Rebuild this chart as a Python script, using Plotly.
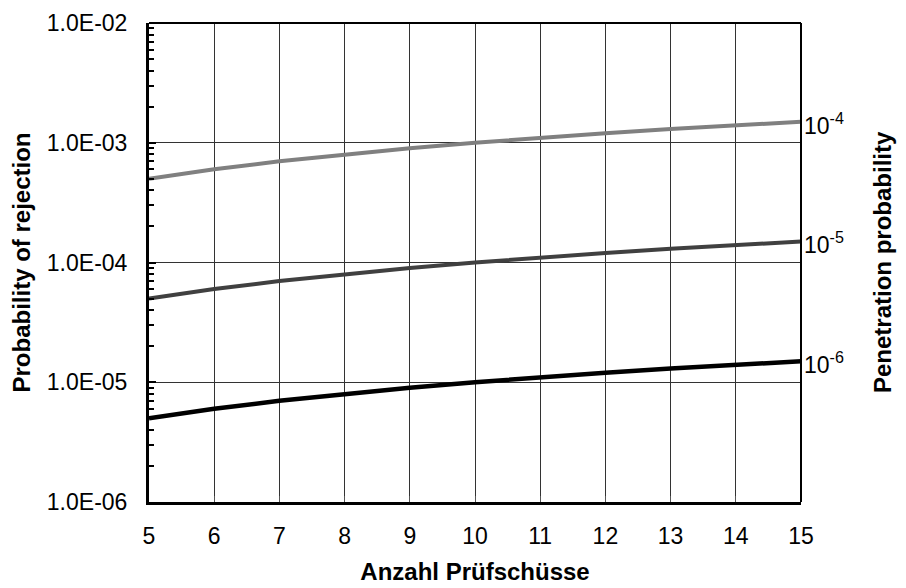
import math
import plotly.graph_objects as go

shots = [5, 6, 7, 8, 9, 10, 11, 12, 13, 14, 15]
p_1e4 = [5.0e-4, 6.0e-4, 7.0e-4, 8.0e-4, 9.0e-4, 1.0e-3, 1.1e-3, 1.2e-3, 1.3e-3, 1.4e-3, 1.5e-3]
p_1e5 = [5.0e-5, 6.0e-5, 7.0e-5, 8.0e-5, 9.0e-5, 1.0e-4, 1.1e-4, 1.2e-4, 1.3e-4, 1.4e-4, 1.5e-4]
p_1e6 = [5.0e-6, 6.0e-6, 7.0e-6, 8.0e-6, 9.0e-6, 1.0e-5, 1.1e-5, 1.2e-5, 1.3e-5, 1.4e-5, 1.5e-5]
labels = ["10<sup>-4</sup>", "10<sup>-5</sup>", "10<sup>-6</sup>"]
colors = ["#808080", "#404040", "#000000"]
widths = [4, 4, 4.5]
y_tickvals = [1e-6, 1e-5, 1e-4, 1e-3, 1e-2]
y_ticktext = ["1.0E-06", "1.0E-05", "1.0E-04", "1.0E-03", "1.0E-02"]
x_ticks = list(range(5, 16))

FONT = "Liberation Sans, Arial, sans-serif"
FS = 23
FT = 24
fig = go.Figure()
for name, vals, color, w in zip(labels, [p_1e4, p_1e5, p_1e6], colors, widths):
    fig.add_trace(go.Scatter(x=shots, y=vals, mode="lines",
                             line=dict(color=color, width=w), showlegend=False))
    fig.add_annotation(x=shots[-1], y=math.log10(vals[-1]), yref="y", xref="x", text=name,
                       showarrow=False, xanchor="left", xshift=1, yshift=-2,
                       font=dict(size=FS, color="black", family=FONT))

fig.update_layout(
    width=906, height=588, margin=dict(l=141, r=113, t=15, b=94),
    paper_bgcolor="white", plot_bgcolor="white",
    font=dict(family=FONT, color="black", size=FS),
    xaxis=dict(range=[5, 15], tickvals=x_ticks, ticks="inside", ticklen=6,
               tickcolor="#555", showgrid=True, gridcolor="#333", gridwidth=1,
               showline=True, linecolor="black", linewidth=3, mirror=False,
               tickfont=dict(size=FS), zeroline=False, ticklabelstandoff=11,
               automargin=False,
               title=dict(text="<b>Anzahl Prüfschüsse</b>", font=dict(size=FT), standoff=16)),
    yaxis=dict(type="log", range=[-6, -2], tickvals=y_tickvals, ticktext=y_ticktext,
               ticks="inside", ticklen=7, tickwidth=2, tickcolor="black",
               showgrid=True, gridcolor="#333", gridwidth=1,
               showline=True, linecolor="black", linewidth=3, mirror=False,
               tickfont=dict(size=FS), ticklabelstandoff=14, automargin=False,
               minor=dict(ticks="inside", dtick="D1", ticklen=5, tickwidth=2,
                          tickcolor="black", showgrid=False),
               title=dict(text="<b>Probability of rejection</b>", font=dict(size=FT), standoff=15)),
)
fig.add_shape(type="line", xref="paper", yref="paper", x0=0, x1=1, y0=1, y1=1,
              line=dict(color="black", width=2))
fig.add_shape(type="line", xref="paper", yref="paper", x0=1, x1=1, y0=0, y1=1,
              line=dict(color="black", width=2))
fig.add_annotation(x=1, xref="paper", xshift=97, y=0.5, yref="paper",
                   text="<b>Penetration probability</b>", textangle=-90, showarrow=False,
                   font=dict(size=FT, family=FONT, color="black"))
fig.write_html("out.html")
